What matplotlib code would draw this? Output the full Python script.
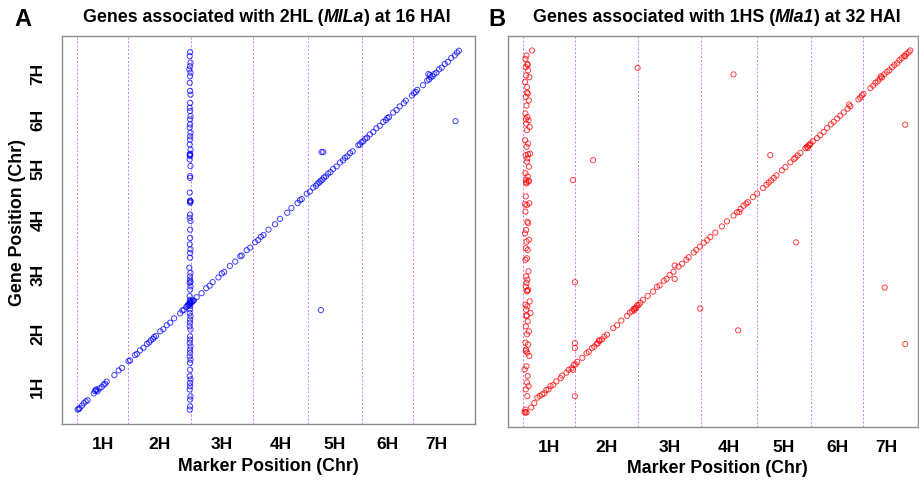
import numpy as np
import matplotlib.pyplot as plt

# Chromosome layout (relative genome units, 0-100)
chroms = ["1H", "2H", "3H", "4H", "5H", "6H", "7H"]
chr_len = [13.3, 16.4, 16.2, 14.4, 14.1, 13.3, 12.3]

# Panel A: 2HL (MlLa), 16 HAI
a_diag_marker = [0.1, 0.6, 1.2, 1.7, 2.2, 2.7, 4.3, 4.9, 5.3, 5.8, 6.4, 6.9, 7.3, 7.7,
                 9.7, 10.8, 11.7, 13.4, 13.8, 15.1, 15.6, 16.4, 17.3, 18.2, 18.8, 19.2,
                 19.8, 20.1, 20.6, 21.7, 22.5, 23.4, 24.3, 25.3, 26.9, 27.5, 27.9, 28.5,
                 28.8, 29.2, 29.5, 29.9, 30.2, 30.5, 31.2, 32.5, 33.7, 34.6, 35.4, 36.9,
                 37.8, 38.4, 39.9, 41.3, 42.6, 43.0, 44.3, 45.2, 46.5, 47.3, 48.0, 48.7,
                 50.0, 51.7, 53.0, 54.9, 56.0, 57.6, 58.2, 58.7, 60.0, 60.8, 61.7, 62.4,
                 62.8, 63.3, 63.6, 64.1, 64.5, 65.0, 65.6, 66.2, 66.9, 67.8, 68.7, 69.5,
                 70.0, 70.6, 71.3, 72.0, 73.5, 73.9, 74.3, 74.8, 75.3, 75.8, 76.5, 77.4,
                 78.2, 79.1, 80.0, 80.7, 81.1, 81.5, 82.6, 83.5, 84.3, 85.4, 85.9, 87.5,
                 88.0, 88.5, 88.9, 90.4, 91.5, 92.0, 92.4, 92.9, 93.3, 93.9, 94.6, 95.3,
                 96.1, 96.9, 97.8, 98.7, 99.3, 99.8, 0.4, 4.6, 5.0, 29.0, 29.4, 30.0,
                 91.8, 92.2, 64.3]
a_diag_gene = [0.0, 0.4, 1.1, 1.8, 2.3, 2.6, 4.5, 5.6, 5.1, 5.9, 6.3, 7.0, 7.2, 7.8,
               9.6, 10.9, 11.6, 13.5, 13.7, 15.2, 15.5, 16.5, 17.2, 18.3, 18.7, 19.3,
               19.7, 20.2, 20.5, 21.8, 22.4, 23.5, 24.2, 25.4, 26.8, 27.6, 27.8, 28.6,
               28.9, 29.1, 29.6, 29.8, 30.3, 30.4, 31.3, 32.4, 33.8, 34.5, 35.5, 36.8,
               37.9, 38.3, 40.0, 41.2, 42.7, 42.9, 44.4, 45.1, 46.6, 47.2, 48.1, 48.6,
               50.1, 51.6, 53.1, 54.8, 56.1, 57.5, 58.3, 58.6, 60.1, 60.7, 61.8, 62.3,
               62.9, 63.2, 63.7, 64.0, 64.6, 64.9, 65.7, 66.1, 67.0, 67.7, 68.8, 69.4,
               70.1, 70.5, 71.4, 71.9, 73.6, 73.8, 74.4, 74.7, 75.4, 75.7, 76.6, 77.3,
               78.3, 79.0, 80.1, 80.6, 81.2, 81.4, 82.7, 83.4, 84.4, 85.3, 86.0, 87.4,
               88.1, 88.4, 89.0, 90.3, 91.6, 91.9, 92.5, 92.8, 93.4, 93.8, 94.7, 95.2,
               96.2, 96.8, 97.9, 98.6, 99.4, 99.9, 0.2, 5.2, 5.4, 29.3, 29.8, 30.1,
               93.4, 93.1, 71.7]
a_col_marker = [29.5, 29.4, 29.6, 29.5, 29.3, 29.6, 29.5, 29.4, 29.5, 29.6, 29.5, 29.4,
                29.5, 29.6, 29.5, 29.5, 29.4, 29.6, 29.5, 29.5, 29.4, 29.6, 29.5, 29.5,
                29.4, 29.6, 29.5, 29.5, 29.4, 29.6, 29.5, 29.5, 29.4, 29.6, 29.5, 29.5,
                29.4, 29.6, 29.5, 29.5, 29.3, 29.6, 29.5, 29.5, 29.4, 29.6, 29.5, 29.4,
                29.5, 29.6, 29.5, 29.5, 29.4, 29.6, 29.5, 29.5, 29.4, 29.6, 29.5, 29.5,
                29.4, 29.6, 29.5, 29.5, 29.4, 29.6, 29.5, 29.5, 29.4, 29.6, 29.5, 29.5,
                29.4, 29.6, 29.5, 29.5, 29.4, 29.6, 29.5, 29.5, 29.4, 29.6, 29.5]
a_col_gene = [99.5, 98.4, 96.6, 95.6, 94.7, 93.8, 92.8, 91.0, 88.7, 87.7, 85.4, 84.0,
              83.1, 81.7, 80.8, 79.4, 78.5, 77.1, 76.1, 75.2, 73.8, 72.4, 71.0, 70.6,
              69.6, 67.8, 65.0, 64.5, 60.4, 58.0, 57.6, 54.3, 53.4, 52.5, 50.1, 47.8,
              46.0, 44.6, 43.6, 42.3, 39.5, 38.1, 37.1, 36.2, 35.3, 34.3, 33.4, 31.6,
              30.6, 29.7, 28.8, 27.9, 26.9, 26.0, 25.1, 24.2, 23.2, 22.3, 20.4, 19.5,
              18.6, 17.6, 16.7, 15.8, 14.8, 13.9, 13.0, 11.1, 9.3, 8.4, 7.4, 6.5,
              5.6, 3.7, 2.8, 0.9, 0.0, 57.9, 58.2, 71.2, 70.9, 35.6, 30.2]
a_out_marker = [63.9, 63.7, 98.9]
a_out_gene = [71.7, 27.7, 80.3]

# Panel B: 1HS (Mla1), 32 HAI
b_diag_marker = [0.5, 2.0, 2.8, 4.2, 4.8, 5.4, 5.9, 6.5, 7.0, 7.7, 8.5, 9.6, 10.0, 11.1,
                 11.7, 12.4, 13.0, 13.5, 13.9, 15.2, 16.3, 16.9, 17.7, 18.3, 18.9, 19.2,
                 19.7, 20.3, 20.9, 21.6, 23.2, 24.2, 25.3, 26.8, 27.5, 28.1, 28.5, 28.9,
                 29.4, 29.8, 30.2, 30.9, 32.1, 33.5, 34.5, 35.2, 36.3, 37.0, 37.8, 38.8,
                 40.1, 41.0, 42.1, 42.7, 44.0, 44.7, 45.6, 46.6, 47.5, 48.3, 49.6, 51.3,
                 52.6, 54.3, 55.2, 56.1, 56.9, 57.6, 58.0, 59.3, 60.4, 61.9, 62.8, 63.4,
                 64.0, 64.7, 65.4, 66.8, 67.7, 69.0, 69.9, 70.3, 70.9, 71.6, 72.9, 73.3,
                 73.7, 74.2, 74.8, 75.9, 76.7, 77.6, 78.5, 79.5, 80.2, 81.1, 81.9, 82.8,
                 83.8, 84.5, 86.6, 87.1, 87.5, 87.9, 89.7, 90.4, 91.0, 91.6, 92.1, 92.7,
                 93.3, 94.0, 94.6, 95.3, 95.9, 96.6, 97.2, 97.8, 98.4, 99.0, 99.6, 100.0,
                 0.3, 3.6, 12.8, 19.5, 28.7, 29.1, 55.8, 73.5, 74.0, 84.2, 92.4, 98.7]
b_diag_gene = [0.0, 1.4, 2.6, 4.6, 5.0, 5.3, 6.2, 6.4, 7.3, 7.6, 8.6, 9.5, 10.2, 11.0,
               11.8, 12.2, 13.2, 13.3, 14.0, 15.1, 16.4, 16.8, 17.8, 18.2, 19.0, 19.1,
               19.8, 20.2, 21.0, 21.5, 23.3, 24.1, 25.4, 26.7, 27.6, 28.0, 28.6, 28.8,
               29.6, 29.7, 30.3, 31.1, 32.2, 33.4, 34.7, 35.1, 36.4, 36.9, 38.0, 38.9,
               40.3, 41.1, 42.2, 42.9, 44.2, 44.9, 45.8, 46.9, 47.6, 48.5, 49.7, 51.4,
               52.8, 54.4, 55.3, 56.2, 57.1, 57.7, 58.1, 59.5, 60.5, 62.0, 62.9, 63.5,
               64.1, 64.8, 65.5, 66.9, 67.8, 69.1, 70.0, 70.4, 71.0, 71.7, 73.0, 73.4,
               73.8, 74.3, 74.9, 75.8, 76.6, 77.5, 78.6, 79.6, 80.3, 81.2, 82.0, 82.9,
               83.9, 84.6, 86.5, 87.0, 87.6, 88.0, 89.6, 90.3, 91.1, 91.5, 92.2, 92.6,
               93.4, 94.1, 94.5, 95.4, 96.0, 96.5, 97.3, 97.9, 98.5, 99.1, 99.5, 100.0,
               0.2, 4.1, 11.8, 19.9, 28.2, 29.0, 55.4, 73.1, 73.9, 85.1, 92.9, 98.4]
b_col_marker = [2.2, 0.8, 0.5, 1.0, 0.6, 1.2, 0.7, 1.5, 0.4, 0.9, 1.1, 0.6, 1.4, 0.8,
                0.5, 1.0, 1.3, 0.7, 1.6, 0.9, 0.4, 1.2, 0.8, 1.7, 0.6, 1.0, 0.9, 1.4,
                0.5, 1.1, 0.7, 1.3, 0.8, 0.6, 1.5, 0.9, 0.5, 1.0, 1.2, 0.7, 0.4, 1.4,
                0.8, 0.6, 1.1, 0.9, 0.5, 1.3, 0.7, 1.0, 0.8, 0.6, 1.2, 0.9, 1.6, 0.5,
                1.0, 0.7, 1.8, 0.8, 1.1, 0.6, 1.4, 0.9, 0.5, 1.2, 0.7, 1.0, 1.5, 0.8,
                0.3, 1.1, 0.9, 1.3, 0.6, 1.0, 0.5, 0.8, 1.4, 0.7, 1.1, 0.9, 0.6, 1.2,
                0.4, 1.0, 0.8, 0.6]
b_col_gene = [100.0, 98.6, 97.7, 96.3, 95.4, 94.5, 93.1, 92.6, 91.3, 89.9, 88.1, 87.2,
              86.2, 84.8, 82.6, 81.6, 80.7, 79.8, 78.9, 78.0, 75.2, 74.3, 73.4, 71.5,
              71.1, 70.2, 69.3, 67.9, 66.1, 65.2, 64.3, 63.8, 63.3, 59.7, 57.8, 57.3,
              55.5, 52.7, 52.3, 50.4, 49.5, 47.7, 47.2, 45.4, 44.9, 42.6, 42.2, 39.0,
              37.6, 36.7, 35.8, 34.8, 33.9, 33.5, 30.7, 29.8, 29.3, 28.4, 27.5, 26.6,
              25.2, 23.8, 22.4, 21.6, 19.3, 18.8, 17.4, 16.5, 15.6, 12.8, 11.9, 10.1,
              8.3, 7.3, 6.4, 4.5, 0.8, 0.0, 64.0, 63.6, 96.0, 88.4, 81.0, 71.3,
              57.5, 33.7, 26.9, 17.0]
b_out_marker = [29.5, 54.3, 18.0, 12.8, 63.8, 98.7, 70.5, 39.1, 39.1, 13.3, 45.7, 93.4,
                55.5, 98.7, 13.3, 13.3, 13.3]
b_out_gene = [95.2, 93.4, 69.7, 64.2, 71.1, 79.5, 47.0, 40.6, 36.9, 36.0, 28.7, 34.5,
              22.7, 18.9, 19.2, 17.8, 4.5]

chr_start = np.concatenate([[0], np.cumsum(chr_len)[:-1]])
chr_mid = chr_start + np.array(chr_len) / 2

plt.rcParams['font.family'] = ['Liberation Sans', 'DejaVu Sans']

fig = plt.figure(figsize=(9.19, 4.81), dpi=100)
axA = fig.add_axes([62 / 919, (481 - 425) / 481, 413 / 919, 388 / 481])
axB = fig.add_axes([508 / 919, (481 - 428) / 481, 410 / 919, 391 / 481])


def draw_panel(ax, xs, ys, color, xmax):
    for s in chr_start:
        ax.axvline(s, color='#c77dff', lw=0.7, ls=(0, (2, 2)), zorder=1)
    for x, y in zip(xs, ys):
        ax.scatter(x, y, s=14, facecolors='none', edgecolors=color,
                   linewidths=0.7, alpha=0.75, zorder=2)
    ax.set_xlim(-4, xmax)
    ax.set_ylim(-4, 104)
    ax.set_xticks(chr_mid, chroms, fontsize=12.5, fontweight='bold')
    ax.tick_params(length=0, pad=9)
    for sp in ax.spines.values():
        sp.set_color('#8c8c8c')
        sp.set_linewidth(1)


draw_panel(axA, [a_diag_marker, a_col_marker, a_out_marker],
           [a_diag_gene, a_col_gene, a_out_gene], '#0000ff', 104)
axA.set_yticks(chr_mid, chroms, fontsize=12.5, fontweight='bold',
               rotation=90, va='center')
axA.tick_params(axis='y', pad=12)

draw_panel(axB, [b_diag_marker, b_col_marker, b_out_marker],
           [b_diag_gene, b_col_gene, b_out_gene], '#ff0000', 102)
axB.set_yticks([])


def rich_text(xc, yc, parts, size):
    # place text pieces side by side, centred on xc (pixel coords)
    renderer = fig.canvas.get_renderer()
    objs = []
    for txt, style in parts:
        t = fig.text(0, yc / 481, txt, fontsize=size, fontweight='bold',
                     fontstyle=style, va='center', ha='left')
        objs.append(t)
    widths = [t.get_window_extent(renderer).width for t in objs]
    x = xc - sum(widths) / 2
    for t, w in zip(objs, widths):
        t.set_x(x / 919)
        x += w


rich_text(267, 481 - 17, [("Genes associated with 2HL (", 'normal'),
                          ("MlLa", 'italic'), (") at 16 HAI", 'normal')], 12.8)
rich_text(717, 481 - 17, [("Genes associated with 1HS (", 'normal'),
                          ("Mla1", 'italic'), (") at 32 HAI", 'normal')], 12.8)
fig.text(23 / 919, (481 - 20) / 481, "A", fontsize=17, fontweight='bold',
         ha='center', va='center')
fig.text(497 / 919, (481 - 20) / 481, "B", fontsize=17, fontweight='bold',
         ha='center', va='center')

fig.text(268 / 919, (481 - 467) / 481, "Marker Position (Chr)", fontsize=12.8,
         fontweight='bold', ha='center', va='center')
fig.text(717 / 919, (481 - 469) / 481, "Marker Position (Chr)", fontsize=12.8,
         fontweight='bold', ha='center', va='center')
fig.text(18 / 919, (481 - 222) / 481, "Gene Position (Chr)", fontsize=12.8,
         fontweight='bold', ha='center', va='center', rotation=90)

fig.savefig("out.png", dpi=100)
